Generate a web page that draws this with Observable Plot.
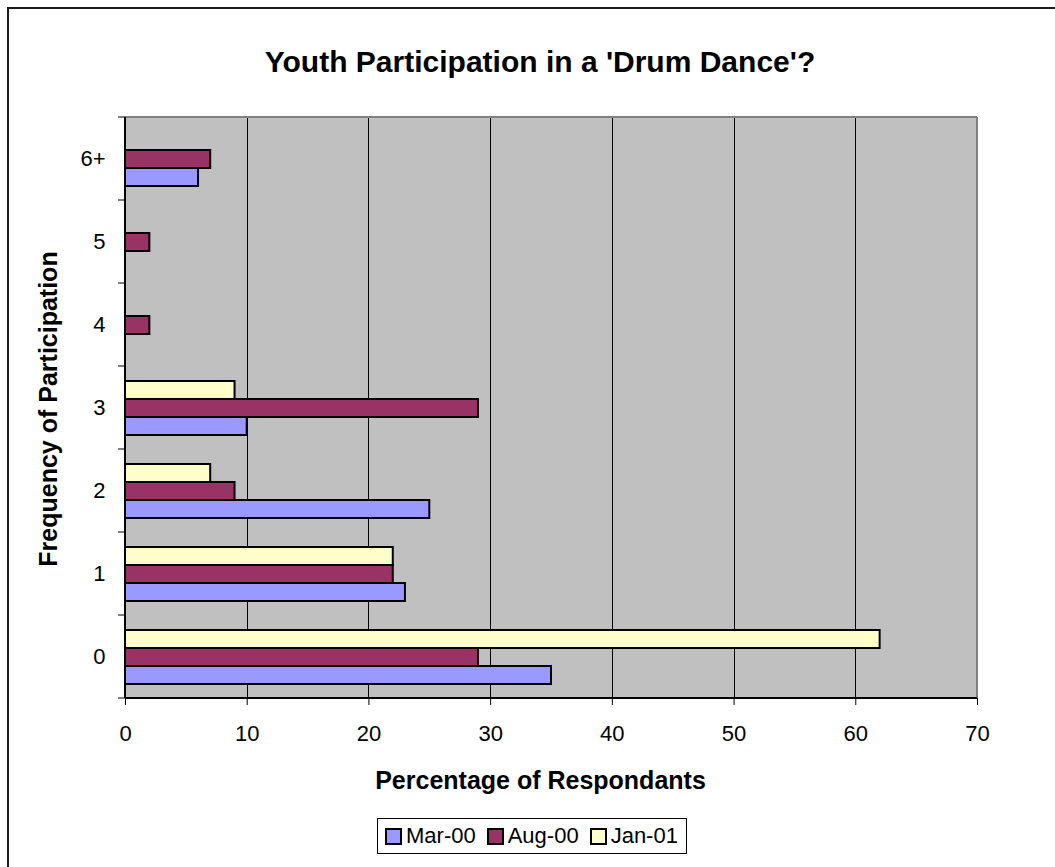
<!DOCTYPE html>
<html>
<head>
<meta charset="utf-8">
<script src="https://cdn.jsdelivr.net/npm/d3@7"></script>
<script src="https://cdn.jsdelivr.net/npm/@observablehq/plot@0.6"></script>
<style>
  body { margin: 0; background: #fff; }
  #chart {
    position: relative; width: 1055px; height: 867px; overflow: hidden;
    font-family: "Liberation Sans", Arial, sans-serif; color: #000;
  }
  #chart .outline {
    position: absolute; left: 7px; top: 7px; width: 1070px; height: 880px;
    border: 2px solid #1a1a1a; box-sizing: border-box;
  }
  #chart svg { position: absolute; left: 0; top: 0; }
  #chart svg text { font-size: 22px; }
  .title {
    position: absolute; left: 0; width: 1080px; top: 47px; line-height: 1;
    text-align: center; font-size: 30px; font-weight: bold;
  }
  .xlabel {
    position: absolute; left: 0; width: 1081px; top: 768px; line-height: 1;
    text-align: center; font-size: 25px; font-weight: bold;
  }
  .ylabel {
    position: absolute; left: 36px; top: 409px; line-height: 1; white-space: nowrap;
    font-size: 25px; font-weight: bold;
    transform: translate(-50%, 0) rotate(-90deg); transform-origin: 50% 0;
  }
  .legend {
    position: absolute; left: 377px; top: 818px; height: 36px; box-sizing: border-box;
    border: 1px solid #000; background: #fff; display: flex; align-items: center;
    padding: 0 8px 0 7px; font-size: 22px;
  }
  .legend .item { display: flex; align-items: center; margin-right: 11px; }
  .legend .item:last-child { margin-right: 0; }
  .legend .swatch {
    width: 17px; height: 17px; box-sizing: border-box; border: 2px solid #000;
    margin-right: 4px;
  }
</style>
</head>
<body>
<div id="chart">
  <div class="outline"></div>
</div>
<script>
// Survey categories (times participated) and survey rounds
const categories = ["0", "1", "2", "3", "4", "5", "6+"];
const seriesNames = ["Mar-00", "Aug-00", "Jan-01"];

// Percentage of respondents per category, one array per survey round
const mar00 = [35, 23, 25, 10, null, null, 6];
const aug00 = [29, 22, 9, 29, 2, 2, 7];
const jan01 = [62, 22, 7, 9, null, null, null];

const xTicks = [0, 10, 20, 30, 40, 50, 60, 70];
const seriesColors = ["#9999ff", "#993366", "#ffffcc"];

const titleText = "Youth Participation in a 'Drum Dance'?";
const xLabelText = "Percentage of Respondants";
const yLabelText = "Frequency of Participation";

// Long-format table for the bar mark
const rows = [];
[mar00, aug00, jan01].forEach((values, s) => {
  values.forEach((v, i) => {
    if (v != null) rows.push({category: categories[i], series: seriesNames[s], value: v});
  });
});

const chart = Plot.plot({
  width: 1055,
  height: 867,
  marginLeft: 125,
  marginRight: 78,
  marginTop: 117,
  marginBottom: 169,
  style: {
    fontFamily: "'Liberation Sans', Arial, sans-serif",
    fontSize: "22px",
    background: "transparent",
    color: "#000"
  },
  x: {domain: [0, 70], ticks: xTicks, tickSize: 7, tickPadding: 20, label: null},
  y: {domain: seriesNames.slice().reverse(), paddingInner: 0, paddingOuter: 0.72, axis: null},
  fy: {domain: categories.slice().reverse(), padding: 0, axis: "left", tickSize: 0, tickPadding: 20, label: null},
  color: {domain: seriesNames, range: seriesColors},
  marks: [
    Plot.ruleX(xTicks.filter((t) => t > 0 && t < 70), {stroke: "#000", strokeWidth: 1, shapeRendering: "crispEdges"}),
    Plot.barX(rows, {
      x: "value",
      y: "series",
      fy: "category",
      fill: "series",
      stroke: "#000",
      strokeWidth: 2
    })
  ]
});

// Plot-area background, border, axis lines and category boundary ticks, placed from the scales
const fyScale = chart.scale("fy");
const xScale = chart.scale("x");
const [plotLeft, plotRight] = xScale.range;
const plotTop = d3.min(fyScale.range), plotBottom = d3.max(fyScale.range);
const svg = d3.select(chart);
svg.insert("rect", ":first-child")
  .attr("x", plotLeft).attr("y", plotTop)
  .attr("width", plotRight - plotLeft).attr("height", plotBottom - plotTop)
  .attr("fill", "#c0c0c0");
const g = svg.append("g").attr("fill", "none");
g.append("line").attr("x1", plotLeft).attr("x2", plotRight).attr("y1", plotTop).attr("y2", plotTop)
  .attr("stroke", "#808080").attr("stroke-width", 2);
g.append("line").attr("x1", plotRight).attr("x2", plotRight).attr("y1", plotTop).attr("y2", plotBottom)
  .attr("stroke", "#808080").attr("stroke-width", 2);
g.append("line").attr("x1", plotLeft).attr("x2", plotLeft).attr("y1", plotTop).attr("y2", plotBottom)
  .attr("stroke", "#000").attr("stroke-width", 2);
g.append("line").attr("x1", plotLeft).attr("x2", plotRight).attr("y1", plotBottom).attr("y2", plotBottom)
  .attr("stroke", "#000").attr("stroke-width", 2);
const boundaries = fyScale.domain.map((d) => fyScale.apply(d)).concat([plotBottom]);
g.selectAll(".cat-tick").data(boundaries).join("line")
  .attr("x1", plotLeft - 7).attr("x2", plotLeft).attr("y1", (d) => d).attr("y2", (d) => d)
  .attr("stroke", "#000").attr("stroke-width", 1);

const root = document.getElementById("chart");
root.appendChild(chart);

const title = document.createElement("div");
title.className = "title";
title.textContent = titleText;
root.appendChild(title);

const xl = document.createElement("div");
xl.className = "xlabel";
xl.textContent = xLabelText;
root.appendChild(xl);

const yl = document.createElement("div");
yl.className = "ylabel";
yl.textContent = yLabelText;
root.appendChild(yl);

const legend = document.createElement("div");
legend.className = "legend";
seriesNames.forEach((name, i) => {
  const item = document.createElement("span");
  item.className = "item";
  const sw = document.createElement("span");
  sw.className = "swatch";
  sw.style.background = seriesColors[i];
  item.appendChild(sw);
  item.appendChild(document.createTextNode(name));
  legend.appendChild(item);
});
root.appendChild(legend);
</script>
</body>
</html>
